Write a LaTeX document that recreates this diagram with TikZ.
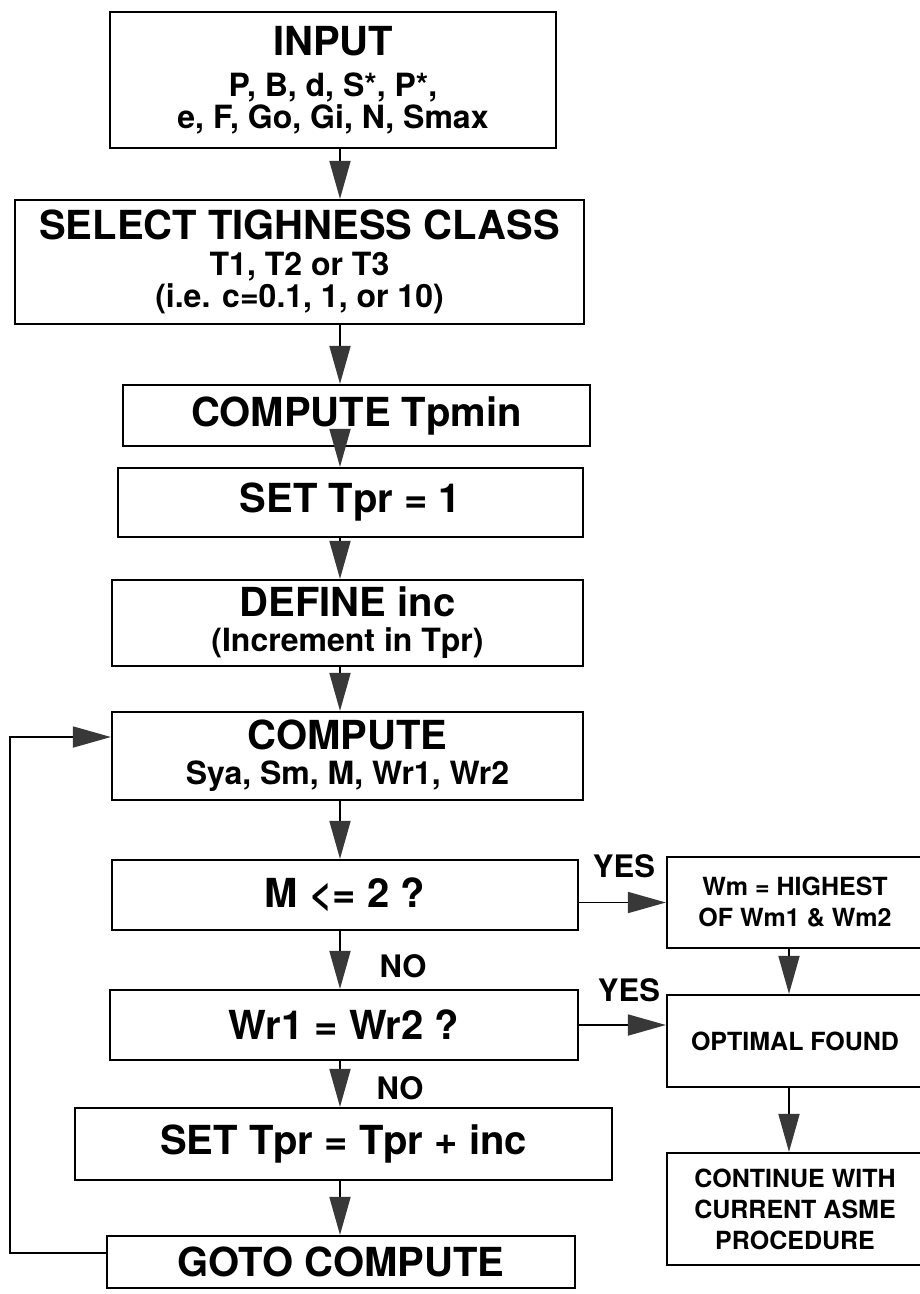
\documentclass[tikz,border=0pt]{standalone}
\usepackage{fontspec}
\setmainfont{TeX Gyre Heros}
\usetikzlibrary{arrows.meta}

\newcommand\boxhead{\fontsize{40}{44}\selectfont}
\newcommand\boxsub{\fontsize{32}{32}\selectfont}
\newcommand\sidetxt{\fontsize{25}{31}\selectfont}

\begin{document}
\begin{tikzpicture}[x=1pt,y=-1pt,
  box/.style={draw, line width=2.2pt, align=center, inner sep=0pt, font=\bfseries\boxsub},
  side/.style={box, minimum width=256pt, font=\bfseries\sidetxt},
  flow/.style={line width=1.8pt, -{Triangle[length=38pt,width=21pt,color=black!78]}},
  lbl/.style={font=\bfseries\fontsize{31}{31}\selectfont}]
\useasboundingbox (0,0) rectangle (920,1294);

% Main column
\node[box, minimum width=446pt, minimum height=136pt] (input) at (333,80)
  {{\boxhead INPUT}\\[9pt]P, B, d, S*, P*,\\e, F, Go, Gi, N, Smax};
\node[box, minimum width=569pt, minimum height=124pt] (select) at (299.5,262)
  {{\boxhead SELECT TIGHNESS CLASS}\\[4pt]T1, T2 or T3\\(i.e. c=0.1, 1, or 10)};
\node[box, minimum width=467pt, minimum height=61pt, font=\bfseries\boxhead] (tpmin) at (356.5,415.5) {COMPUTE Tpmin};
\node[box, minimum width=465pt, minimum height=69pt, font=\bfseries\boxhead] (settpr) at (350.5,502.5) {SET Tpr = 1};
\node[box, minimum width=471pt, minimum height=86pt] (define) at (347.5,623)
  {{\boxhead DEFINE inc}\\[3pt](Increment in Tpr)};
\node[box, minimum width=471pt, minimum height=88pt] (compute) at (347.5,756)
  {{\boxhead COMPUTE}\\[3pt]Sya, Sm, M, Wr1, Wr2};
\node[box, minimum width=466pt, minimum height=70pt, font=\bfseries\boxhead] (mcheck) at (345,895) {M <= 2 ?};
\node[box, minimum width=468pt, minimum height=70pt, font=\bfseries\boxhead] (wrcheck) at (344,1025) {Wr1 = Wr2 ?};
\node[box, minimum width=537pt, minimum height=72pt, font=\bfseries\boxhead] (settprinc) at (343.5,1144) {SET Tpr = Tpr + inc};
\node[box, minimum width=468pt, minimum height=52pt, font=\bfseries\boxhead] (goto) at (341,1262) {GOTO COMPUTE};

% Right column
\node[side, minimum height=91pt] (wm) at (795,902.5) {Wm = HIGHEST\\OF Wm1 \& Wm2};
\node[side, minimum height=92pt] (optimal) at (795,1041) {OPTIMAL FOUND};
\node[side, minimum height=112pt] (continue) at (795,1209) {CONTINUE WITH\\CURRENT ASME\\PROCEDURE};

% Arrows
\coordinate (mx) at (340,0);
\coordinate (rx) at (789,0);
\coordinate (lx) at (10,0);
\foreach \a/\b in {input/select, select/tpmin, tpmin/settpr, settpr/define, define/compute,
                   compute/mcheck, mcheck/wrcheck, wrcheck/settprinc, settprinc/goto}
  \draw[flow] (\a.south -| mx) -- (\b.north -| mx);
\draw[flow] (wm.south -| rx) -- (optimal.north -| rx);
\draw[flow] (optimal.south -| rx) -- (continue.north -| rx);
\draw[flow] (wm.west -| mcheck.east) -- (wm.west);
\draw[flow] (wrcheck.east) -- (wrcheck.east -| optimal.west);
\draw[flow] ([yshift=9pt]goto.west) -- ([yshift=9pt]goto.west -| lx) |- ([yshift=19pt]compute.west);

% Labels
\node[lbl] (yes1) at (624,866) {YES};
\node[lbl] (yes2) at (629,990) {YES};
\node[lbl] (no1) at (403,966) {NO};
\node[lbl] (no2) at (400,1088) {NO};
\end{tikzpicture}
\end{document}
